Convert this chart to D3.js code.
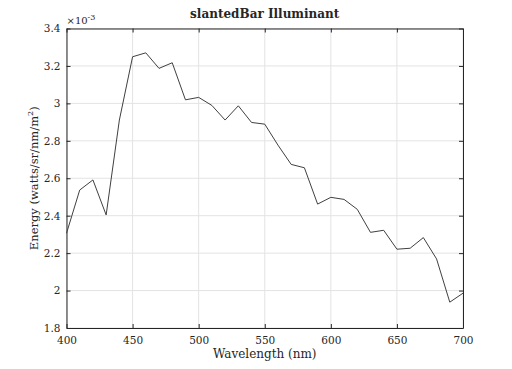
<!DOCTYPE html>
<html>
<head>
<meta charset="utf-8">
<script src="https://cdn.jsdelivr.net/npm/d3@7"></script>
<style>
  body { margin: 0; background: #fff; }
  text { font-family: "DejaVu Serif", "Liberation Serif", serif; fill: #262626; }
</style>
</head>
<body>
<div id="chart"></div>
<script>
// wavelength samples (nm) and energy (x 1e-3 watts/sr/nm/m^2)
const wavelengths = d3.range(400, 701, 10)
const energy = [
  2.306, 2.537, 2.591, 2.404, 2.911, 3.249, 3.270, 3.187, 3.217, 3.019,
  3.032, 2.989, 2.911, 2.987, 2.898, 2.889, 2.777, 2.674, 2.656, 2.462,
  2.498, 2.487, 2.434, 2.311, 2.322, 2.221, 2.226, 2.283, 2.169, 1.938,
  1.986
]
const xTicks = [400, 450, 500, 550, 600, 650, 700]
const yTicks = [1.8, 2, 2.2, 2.4, 2.6, 2.8, 3, 3.2, 3.4]

const W = 512, H = 369
let margin = { top: 28.5, right: 49, bottom: 41, left: 66.5 },
  width  = W - margin.left - margin.right,
  height = H - margin.top  - margin.bottom

let svg = d3.select("#chart").append("svg")
  .attr("width", W)
  .attr("height", H)

let g = svg.append("g")
  .attr("transform", "translate(" + margin.left + "," + margin.top + ")")

let x = d3.scaleLinear().domain([400, 700]).range([0, width])
let y = d3.scaleLinear().domain([1.8, 3.4]).range([height, 0])

// grid
g.append("g")
  .selectAll("line.gx")
  .data(xTicks)
  .enter().append("line")
  .attr("x1", d => x(d)).attr("x2", d => x(d))
  .attr("y1", 0).attr("y2", height)
  .attr("stroke", "#e3e3e3").attr("stroke-width", 1)
g.append("g")
  .selectAll("line.gy")
  .data(yTicks)
  .enter().append("line")
  .attr("x1", 0).attr("x2", width)
  .attr("y1", d => y(d)).attr("y2", d => y(d))
  .attr("stroke", "#e3e3e3").attr("stroke-width", 1)

// axes
let xAxis = g.append("g")
  .attr("transform", "translate(0," + height + ")")
  .call(d3.axisBottom(x).tickValues(xTicks).tickSize(-4).tickPadding(9).tickSizeOuter(0))
let yAxis = g.append("g")
  .call(d3.axisLeft(y).tickValues(yTicks).tickSize(-4).tickPadding(6).tickSizeOuter(0)
    .tickFormat(d3.format("~g")))
let xTop = g.append("g")
  .call(d3.axisTop(x).tickValues(xTicks).tickSize(-4).tickFormat("").tickSizeOuter(0))
let yRight = g.append("g")
  .attr("transform", "translate(" + width + ",0)")
  .call(d3.axisRight(y).tickValues(yTicks).tickSize(-4).tickFormat("").tickSizeOuter(0))

;[xAxis, yAxis, xTop, yRight].forEach(a => {
  a.selectAll("path.domain").attr("stroke", "#262626").attr("stroke-width", 1)
  a.selectAll(".tick line").attr("stroke", "#262626")
  a.selectAll(".tick text").style("font-size", "10.5px").attr("fill", "#262626")
})

// exponent label
let exp = g.append("text")
  .attr("x", 0)
  .attr("y", -5)
  .style("font-size", "10px")
exp.append("tspan").text("\u00d710")
exp.append("tspan").attr("dy", -4).style("font-size", "8px").text("-3")

// spectrum line
let line = d3.line()
  .x((d, i) => x(wavelengths[i]))
  .y(d => y(d))

g.append("path")
  .datum(energy)
  .attr("fill", "none")
  .attr("stroke", "#404040")
  .attr("stroke-width", 1)
  .attr("d", line)

// title
svg.append("text")
  .attr("x", margin.left + width / 2)
  .attr("y", 18)
  .attr("text-anchor", "middle")
  .style("font-size", "12px")
  .style("font-weight", "bold")
  .text("slantedBar Illuminant")

// x label
svg.append("text")
  .attr("x", margin.left + width / 2)
  .attr("y", 358)
  .attr("text-anchor", "middle")
  .style("font-size", "12px")
  .text("Wavelength (nm)")

// y label
let yl = svg.append("text")
  .attr("transform", "translate(38," + (margin.top + height / 2) + ") rotate(-90)")
  .attr("text-anchor", "middle")
  .style("font-size", "11.5px")
yl.append("tspan").text("Energy (watts/sr/nm/m")
yl.append("tspan").attr("dy", -5).style("font-size", "8px").text("2")
yl.append("tspan").attr("dy", 5).text(")")
</script>
</body>
</html>
